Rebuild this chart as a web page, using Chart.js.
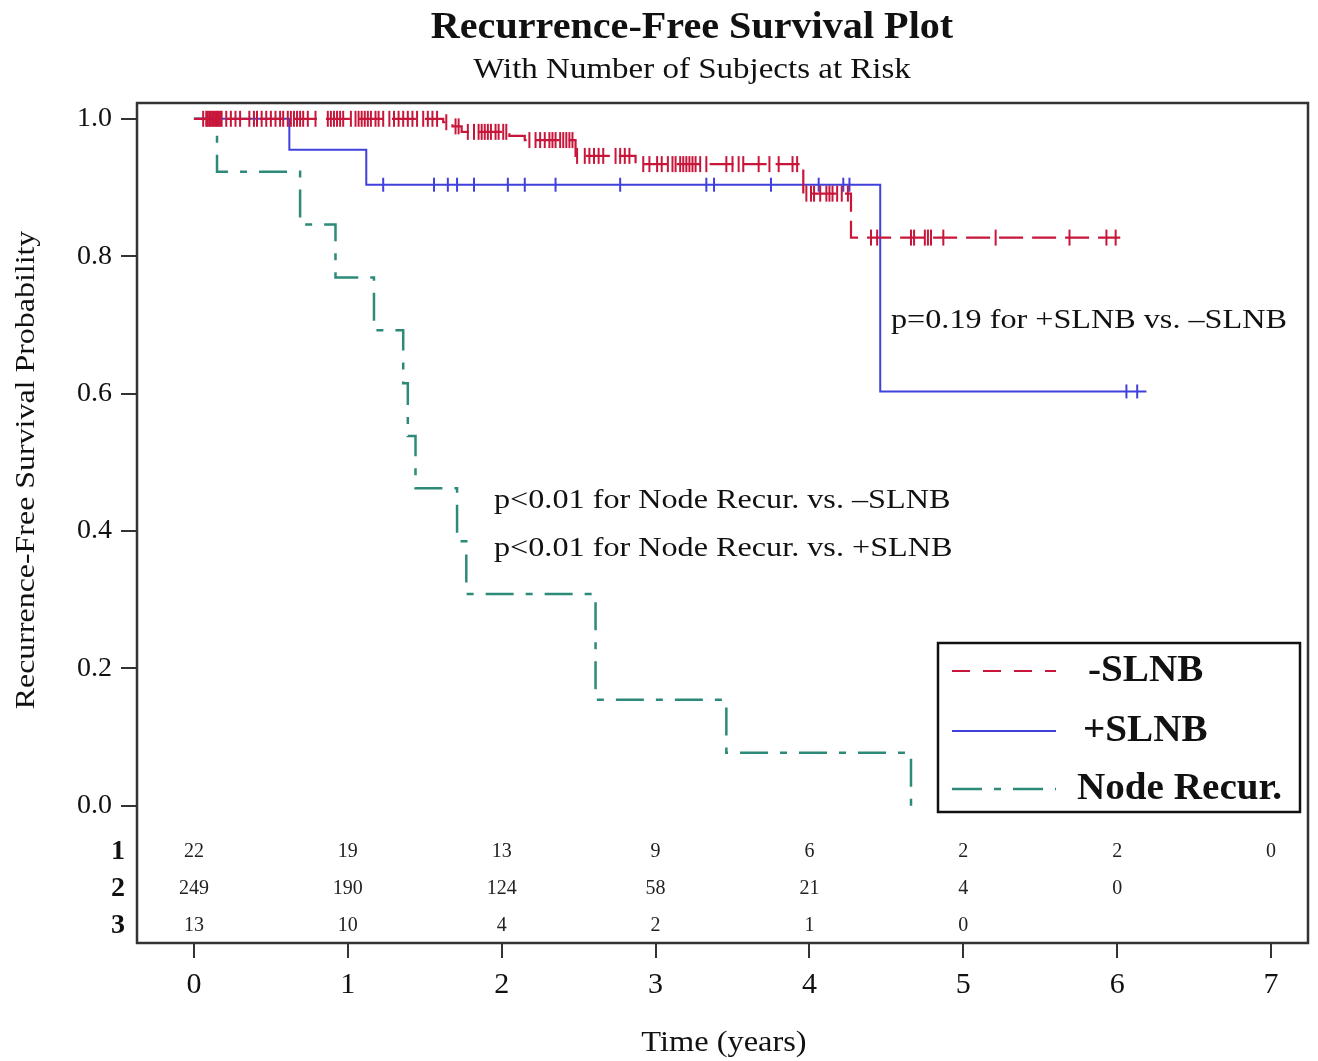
<!DOCTYPE html>
<html>
<head>
<meta charset="utf-8">
<script src="https://cdn.jsdelivr.net/npm/chart.js@4/dist/chart.umd.min.js"></script>
<style>
  html, body { margin: 0; padding: 0; background: #fff; }
</style>
</head>
<body>
<canvas id="chart" width="1318" height="1061"></canvas>
<script>
// Kaplan-Meier step data: time (years) and survival after the event at that time
const negTimes = [0, 1.62, 1.68, 1.74, 2.05, 2.15, 2.48, 2.87, 3.96, 4.27, 6.02];
const negSurv  = [1, 0.995, 0.989, 0.981, 0.975, 0.969, 0.946, 0.934, 0.891, 0.827, 0.827];
const negCensored = [
  0.06, 0.08, 0.09, 0.10, 0.11, 0.12, 0.13, 0.14, 0.15, 0.16, 0.17, 0.18,
  0.21, 0.24, 0.27, 0.30, 0.36, 0.39, 0.41, 0.44, 0.47, 0.50, 0.53, 0.56,
  0.58, 0.61, 0.63, 0.65, 0.67, 0.69, 0.71, 0.74, 0.79, 0.87, 0.89, 0.91,
  0.93, 0.95, 0.97, 1.02, 1.05, 1.07, 1.09, 1.11, 1.13, 1.15, 1.18, 1.20,
  1.23, 1.27, 1.30, 1.33, 1.36, 1.39, 1.42, 1.45, 1.49, 1.52, 1.55, 1.58,
  1.64, 1.70, 1.72, 1.78, 1.82, 1.85, 1.87, 1.89, 1.91, 1.93, 1.96, 1.98,
  2.01, 2.03, 2.18, 2.22, 2.25, 2.28, 2.31, 2.33, 2.35, 2.38, 2.40, 2.42,
  2.44, 2.46, 2.49, 2.54, 2.57, 2.60, 2.63, 2.66, 2.74, 2.77, 2.80, 2.83,
  2.92, 2.96, 3.01, 3.04, 3.08, 3.11, 3.13, 3.16, 3.18, 3.20, 3.22, 3.24,
  3.26, 3.29, 3.33, 3.46, 3.50, 3.54, 3.57, 3.67, 3.74, 3.80, 3.89, 3.92,
  3.98, 4.01, 4.03, 4.07, 4.11, 4.13, 4.15, 4.18, 4.21, 4.25,
  4.40, 4.44, 4.66, 4.68, 4.75, 4.77, 4.79, 4.87, 5.21, 5.69, 5.93, 5.99
];

const posTimes = [0, 0.62, 1.12, 4.46, 6.19];
const posSurv  = [1, 0.955, 0.904, 0.603, 0.603];
const posCensored = [1.23, 1.56, 1.65, 1.71, 1.82, 2.04, 2.15, 2.35, 2.77,
  3.33, 3.38, 3.75, 4.06, 4.22, 4.26, 6.06, 6.13];

const nodeTimes = [0, 0.15, 0.69, 0.92, 1.17, 1.36, 1.39, 1.44, 1.71, 1.77, 2.61, 3.46, 4.66];
const nodeSurv  = [1, 0.923, 0.846, 0.769, 0.692, 0.615, 0.538, 0.462, 0.385, 0.308, 0.154, 0.077, 0];

// number at risk table
const riskTimes = [0, 1, 2, 3, 4, 5, 6, 7];
const riskPos  = [22, 19, 13, 9, 6, 2, 2, 0];
const riskNeg  = [249, 190, 124, 58, 21, 4, 0];
const riskNode = [13, 10, 4, 2, 1, 0];

const xTicks = [0, 1, 2, 3, 4, 5, 6, 7];
const yTicks = [0, 0.2, 0.4, 0.6, 0.8, 1.0];
const groupNames = ['-SLNB', '+SLNB', 'Node Recur.'];

const RED = '#c8163a';
const BLUE = '#4040dc';
const GREEN = '#2e8a78';
const SERIF = '"Liberation Serif", "Times New Roman", serif';

function survAt(times, surv, t) {
  let s = surv[0];
  for (let i = 0; i < times.length; i++) if (times[i] <= t) s = surv[i];
  return s;
}
const toPts = (times, surv) => times.map((t, i) => ({ x: t, y: surv[i] }));
const censPts = (cens, times, surv) => cens.map(t => ({ x: t, y: survAt(times, surv, t) }));

function stepLine(label, times, surv, color, dash, width) {
  return {
    label, data: toPts(times, surv), showLine: true, stepped: true,
    borderColor: color, borderWidth: width, borderDash: dash,
    pointRadius: 0, fill: false
  };
}
function censorMarks(cens, times, surv, color, r) {
  return {
    data: censPts(cens, times, surv), showLine: false,
    pointStyle: 'line', rotation: 90, pointRadius: r,
    borderColor: color, backgroundColor: color, pointBorderWidth: 2
  };
}

// text with a slight horizontal stretch, like the source image
function wideText(ctx, text, x, y, sx, align) {
  ctx.save();
  ctx.translate(x, y);
  ctx.scale(sx, 1);
  ctx.textAlign = align;
  ctx.fillText(text, 0, 0);
  ctx.restore();
}

const decor = {
  id: 'decor',
  afterDraw(chart) {
    const ctx = chart.ctx;
    const xs = chart.scales.x, ys = chart.scales.y;
    const a = chart.chartArea;
    ctx.save();
    // frame
    ctx.strokeStyle = '#333';
    ctx.lineWidth = 2.5;
    ctx.strokeRect(a.left, a.top, a.right - a.left, a.bottom - a.top);

    ctx.fillStyle = '#111';
    ctx.textBaseline = 'middle';
    ctx.font = 'bold 37px ' + SERIF;
    wideText(ctx, 'Recurrence-Free Survival Plot', 692, 28, 1.085, 'center');
    ctx.font = '30px ' + SERIF;
    wideText(ctx, 'With Number of Subjects at Risk', 692, 70, 1.1, 'center');

    ctx.font = '30px ' + SERIF;
    wideText(ctx, 'Time (years)', 724, 1043, 1.08, 'center');

    ctx.save();
    ctx.translate(27, 470);
    ctx.rotate(-Math.PI / 2);
    ctx.font = '28px ' + SERIF;
    wideText(ctx, 'Recurrence-Free Survival Probability', 0, 0, 1.14, 'center');
    ctx.restore();

    // p-value notes
    ctx.font = '28px ' + SERIF;
    wideText(ctx, 'p=0.19 for +SLNB vs. \u2013SLNB', xs.getPixelForValue(4.53), ys.getPixelForValue(0.706), 1.15, 'left');
    wideText(ctx, 'p<0.01 for Node Recur. vs. \u2013SLNB', xs.getPixelForValue(1.95), ys.getPixelForValue(0.444), 1.15, 'left');
    wideText(ctx, 'p<0.01 for Node Recur. vs. +SLNB', xs.getPixelForValue(1.95), ys.getPixelForValue(0.374), 1.15, 'left');

    // number at risk rows
    const rows = [riskPos, riskNeg, riskNode];
    const rowY = [-0.067, -0.121, -0.175];
    rows.forEach((row, r) => {
      const py = ys.getPixelForValue(rowY[r]);
      ctx.textAlign = 'center';
      ctx.font = '20px ' + SERIF;
      ctx.fillStyle = '#222';
      row.forEach((n, i) => ctx.fillText(String(n), xs.getPixelForValue(riskTimes[i]), py));
      ctx.font = 'bold 28px ' + SERIF;
      ctx.fillStyle = '#111';
      ctx.fillText(String(r + 1), 118, py);
    });

    // legend
    const lx = 938, ly = 643, lw = 362, lh = 169;
    ctx.fillStyle = '#fff';
    ctx.fillRect(lx, ly, lw, lh);
    ctx.strokeStyle = '#111';
    ctx.lineWidth = 2.5;
    ctx.strokeRect(lx, ly, lw, lh);
    const items = [
      { color: RED, dash: [18, 13], y: 671, w: 2, x: 1088 },
      { color: BLUE, dash: [], y: 731, w: 2, x: 1083 },
      { color: GREEN, dash: [30, 12, 7, 12], y: 789, w: 2.5, x: 1077 }
    ];
    items.forEach((it, i) => {
      ctx.beginPath();
      ctx.strokeStyle = it.color;
      ctx.lineWidth = it.w;
      ctx.setLineDash(it.dash);
      ctx.moveTo(952, it.y);
      ctx.lineTo(1056, it.y);
      ctx.stroke();
      ctx.setLineDash([]);
      ctx.fillStyle = '#111';
      ctx.font = 'bold 38px ' + SERIF;
      wideText(ctx, groupNames[i], it.x, it.y, 1.03, 'left');
    });
    ctx.restore();
  }
};

new Chart(document.getElementById('chart').getContext('2d'), {
  type: 'scatter',
  data: {
    datasets: [
      censorMarks(negCensored, negTimes, negSurv, RED, 8),
      stepLine(groupNames[0], negTimes, negSurv, RED, [24, 9], 2.2),
      censorMarks(posCensored, posTimes, posSurv, BLUE, 7),
      stepLine(groupNames[1], posTimes, posSurv, BLUE, [], 2),
      stepLine(groupNames[2], nodeTimes, nodeSurv, GREEN, [28, 12, 7, 12], 2.5)
    ]
  },
  options: {
    responsive: false,
    animation: false,
    events: [],
    layout: { padding: { top: 103, right: 8, left: 0, bottom: 0 } },
    plugins: { legend: { display: false }, tooltip: { enabled: false } },
    scales: {
      x: {
        type: 'linear', min: -0.37, max: 7.24,
        afterBuildTicks: s => { s.ticks = xTicks.map(v => ({ value: v })); },
        afterFit: s => { s.height = 118; },
        grid: { drawOnChartArea: false, drawTicks: true, tickLength: 15, color: '#333', lineWidth: 2 },
        border: { display: false },
        ticks: {
          autoSkip: false, maxRotation: 0, padding: 9, color: '#111',
          font: { family: SERIF, size: 30 },
          callback: v => String(v)
        }
      },
      y: {
        min: -0.2, max: 1.023,
        afterBuildTicks: s => { s.ticks = yTicks.map(v => ({ value: v })); },
        afterFit: s => { s.width = 137; },
        grid: { drawOnChartArea: false, drawTicks: true, tickLength: 16, color: '#333', lineWidth: 2 },
        border: { display: false },
        ticks: {
          autoSkip: false, padding: 9, color: '#111',
          font: { family: SERIF, size: 28 },
          callback: v => Number(v).toFixed(1)
        }
      }
    }
  },
  plugins: [decor]
});
</script>
</body>
</html>
